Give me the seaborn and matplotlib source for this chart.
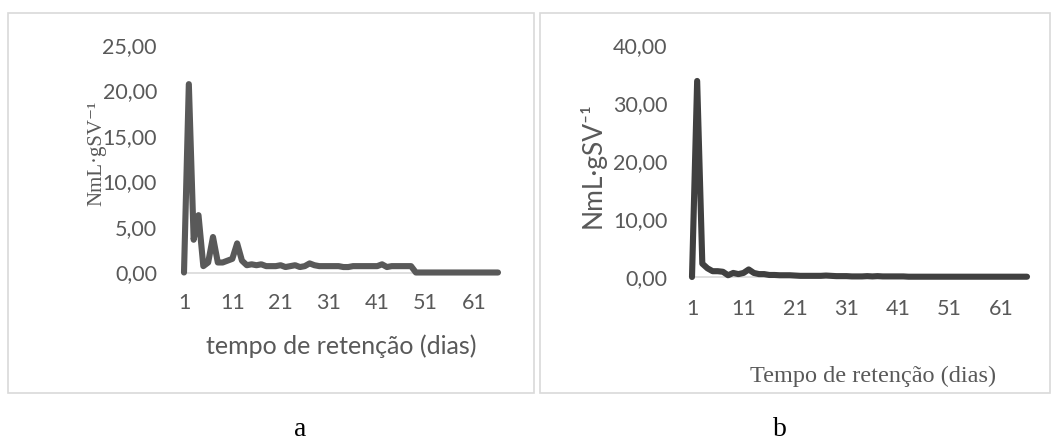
import matplotlib
matplotlib.use("Agg")
import matplotlib.pyplot as plt
from matplotlib.patches import Rectangle
from matplotlib.ticker import FuncFormatter
import seaborn as sns
import pandas as pd

# Daily specific biogas production (NmL·gSV⁻¹), days 1..66
dias = list(range(1, 67))
producao_a = [0, 20.7, 3.6, 6.3, 0.7, 1.1, 3.9, 1.1, 1.1, 1.3,
              1.5, 3.2, 1.3, 0.8, 0.9, 0.8, 0.9, 0.7, 0.7, 0.7,
              0.8, 0.6, 0.7, 0.8, 0.6, 0.7, 1.0, 0.8, 0.7, 0.7,
              0.7, 0.7, 0.7, 0.6, 0.6, 0.7, 0.7, 0.7, 0.7, 0.7,
              0.7, 0.9, 0.6, 0.7, 0.7, 0.7, 0.7, 0.7] + [0.0] * 18
producao_b = [0, 33.8, 2.3, 1.5, 1.0, 1.0, 0.9, 0.3, 0.7, 0.5,
              0.7, 1.3, 0.7, 0.5, 0.5, 0.35, 0.35, 0.3, 0.3, 0.3,
              0.25, 0.2, 0.2, 0.2, 0.2, 0.2, 0.25, 0.2, 0.15, 0.15,
              0.15, 0.1, 0.1, 0.1, 0.15, 0.1, 0.15, 0.1, 0.1, 0.1,
              0.1, 0.1] + [0.05] * 24
x_ticks = [1, 11, 21, 31, 41, 51, 61]

sns.set_style("white")
plt.rcParams["font.family"] = ["Lato", "DejaVu Sans"]
SERIF = ["Liberation Serif", "DejaVu Serif"]

W, H = 1058, 442
fig = plt.figure(figsize=(W / 100, H / 100), dpi=100)

def px_axes(left, right, y_bottom, y_top):
    return fig.add_axes([left / W, 1 - y_bottom / H,
                         (right - left) / W, (y_bottom - y_top) / H])

# outer light frames around each chart
for (x0, x1) in [(8, 534), (540, 1050)]:
    fig.add_artist(Rectangle((x0 / W, 1 - 393 / H), (x1 - x0) / W, (393 - 13) / H,
                             transform=fig.transFigure, fill=False,
                             edgecolor="#d9d9d9", linewidth=1.2))

gray_txt = "#595959"
comma_fmt = FuncFormatter(lambda v, p: f"{v:.2f}".replace(".", ","))

def style(ax, ymax, ystep, xpad, ypad):
    ax.set_xlim(1, 66)
    ax.set_ylim(0, ymax)
    ax.set_yticks([i * ystep for i in range(int(ymax / ystep) + 1)])
    ax.yaxis.set_major_formatter(comma_fmt)
    ax.set_xticks(x_ticks)
    for s in ax.spines.values():
        s.set_visible(False)
    ax.axhline(0, color="#d9d9d9", lw=1.2, zorder=1, clip_on=False)
    ax.tick_params(axis="both", length=0, labelsize=15.5, colors=gray_txt)
    ax.tick_params(axis="y", pad=ypad)
    ax.tick_params(axis="x", pad=xpad)
    ax.patch.set_alpha(0)

# panel a
ax_a = px_axes(184, 498, 272.5, 45)
df_a = pd.DataFrame({"dia": dias, "v": producao_a})
sns.lineplot(data=df_a, x="dia", y="v", ax=ax_a, color="#595959", lw=4.4,
             solid_joinstyle="round", solid_capstyle="round", zorder=3, clip_on=False)
style(ax_a, 25, 5, 15, 19.5)
ax_a.set_xlabel("")
ax_a.set_ylabel("")
fig.text(341 / W, 1 - 346 / H, "tempo de retenção (dias)", ha="center", va="center",
         fontsize=18, color=gray_txt)
fig.text(97 / W, 1 - 153 / H, "NmL·gSV⁻¹", rotation=90, ha="center", va="center",
         fontsize=15, color=gray_txt, family=SERIF)

# panel b
ax_b = px_axes(692, 1027, 277, 45)
df_b = pd.DataFrame({"dia": dias, "v": producao_b})
sns.lineplot(data=df_b, x="dia", y="v", ax=ax_b, color="#404040", lw=4.4,
             solid_joinstyle="round", solid_capstyle="round", zorder=3, clip_on=False)
style(ax_b, 40, 10, 16, 17.5)
ax_b.set_xlabel("")
ax_b.set_ylabel("")
fig.text(873 / W, 1 - 376 / H, "Tempo de retenção (dias)", ha="center", va="center",
         fontsize=17.5, color=gray_txt, family=SERIF)
fig.text(592 / W, 1 - 165 / H, "NmL·gSV⁻¹", rotation=90, ha="center", va="center",
         fontsize=19, color=gray_txt)

# sub-figure letters
fig.text(300 / W, 1 - 429 / H, "a", ha="center", va="center", fontsize=20,
         color="black", family=SERIF)
fig.text(780 / W, 1 - 429 / H, "b", ha="center", va="center", fontsize=20,
         color="black", family=SERIF)

fig.savefig("out.png", dpi=100, facecolor="white")
